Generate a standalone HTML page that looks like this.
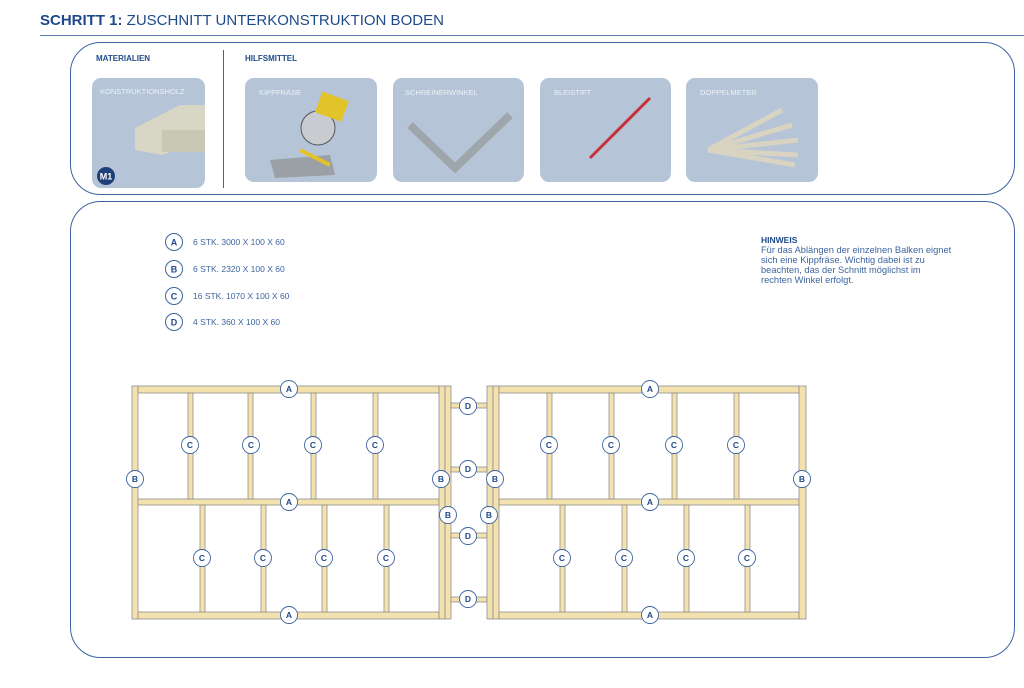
<!DOCTYPE html>
<html><head><meta charset="utf-8"><style>
body{margin:0;width:1024px;height:683px;background:#fff;overflow:hidden;font-family:"Liberation Sans",sans-serif}
</style></head><body>
<svg width="1024" height="683" viewBox="0 0 1024 683" xmlns="http://www.w3.org/2000/svg" font-family="Liberation Sans, sans-serif">
<text x="40" y="25" font-size="15" fill="#1f4a8a"><tspan font-weight="bold">SCHRITT 1:</tspan> ZUSCHNITT UNTERKONSTRUKTION BODEN</text>
<line x1="40" y1="35.5" x2="1024" y2="35.5" stroke="#5d7fb0" stroke-width="1"/>
<rect x="70.5" y="42.5" width="944" height="152" rx="30" fill="none" stroke="#3d64a0" stroke-width="1"/>
<rect x="70.5" y="201.5" width="944" height="456" rx="30" fill="none" stroke="#3d64a0" stroke-width="1"/>
<line x1="223.5" y1="50" x2="223.5" y2="188" stroke="#3d64a0"/>
<text x="96" y="61" font-size="8" font-weight="bold" fill="#1f4a8a">MATERIALIEN</text>
<text x="245" y="61" font-size="8" font-weight="bold" fill="#1f4a8a">HILFSMITTEL</text>
<g fill="#b5c4d6">
<rect x="92" y="78" width="113" height="110" rx="9"/>
<rect x="245" y="78" width="132" height="104" rx="9"/>
<rect x="393" y="78" width="131" height="104" rx="9"/>
<rect x="540" y="78" width="131" height="104" rx="9"/>
<rect x="686" y="78" width="132" height="104" rx="9"/>
</g>
<g font-size="7.5" fill="#eef2f7">
<text x="100" y="94">KONSTRUKTIONSHOLZ</text>
<text x="259" y="95">KIPPFRÄSE</text>
<text x="405" y="95">SCHREINERWINKEL</text>
<text x="554" y="95">BLEISTIFT</text>
<text x="700" y="95">DOPPELMETER</text>
</g>
<polygon points="135,128 180,105 205,105 205,140 162,155 135,150" fill="#d8d6c4"/>
<rect x="162" y="130" width="43" height="22" fill="#c9c8b4"/>
<circle cx="106" cy="176" r="9" fill="#1f3f78"/><text x="106" y="179.5" font-size="9" font-weight="bold" fill="#fff" text-anchor="middle">M1</text>
<polygon points="270,160 330,155 335,175 275,178" fill="#9aa0a6"/>
<circle cx="318" cy="128" r="17" fill="#c8ccd0" stroke="#555"/>
<rect x="318" y="95" width="28" height="22" fill="#e2c42a" transform="rotate(20 330 106)"/>
<line x1="300" y1="150" x2="330" y2="165" stroke="#e2c42a" stroke-width="4"/>
<polyline points="410,125 455,168 510,115" fill="none" stroke="#9ea6ac" stroke-width="8"/>
<line x1="590" y1="158" x2="650" y2="98" stroke="#c7323a" stroke-width="3"/>
<g stroke="#d9d3c1" stroke-width="5"><line x1="708" y1="150" x2="782" y2="110"/><line x1="708" y1="150" x2="792" y2="125"/><line x1="708" y1="150" x2="798" y2="140"/><line x1="708" y1="150" x2="798" y2="155"/><line x1="708" y1="150" x2="795" y2="165"/></g>
<g font-size="8.5" fill="#3d64a0">
<text x="193" y="245">6 STK. 3000 X 100 X 60</text>
<text x="193" y="272">6 STK. 2320 X 100 X 60</text>
<text x="193" y="299">16 STK. 1070 X 100 X 60</text>
<text x="193" y="325">4 STK. 360 X 100 X 60</text>
</g>
<g fill="#fff" stroke="#3d64a0" stroke-width="1">
<circle cx="174" cy="242" r="8.5"/><circle cx="174" cy="269" r="8.5"/><circle cx="174" cy="296" r="8.5"/><circle cx="174" cy="322" r="8.5"/>
</g>
<g font-size="9" font-weight="bold" fill="#1f4a8a" text-anchor="middle">
<text x="174" y="245.5">A</text><text x="174" y="272.5">B</text><text x="174" y="299.5">C</text><text x="174" y="325.5">D</text>
</g>
<g font-size="9.3" fill="#3d64a0">
<text x="761" y="243" font-weight="bold" fill="#1f4a8a" font-size="8.5">HINWEIS</text>
<text x="761" y="253">Für das Ablängen der einzelnen Balken eignet</text>
<text x="761" y="263">sich eine Kippfräse. Wichtig dabei ist zu</text>
<text x="761" y="273">beachten, das der Schnitt möglichst im</text>
<text x="761" y="283">rechten Winkel erfolgt.</text>
</g>
<g fill="#f3e2ad" stroke="#8f8f8f" stroke-width="0.8">
<rect x="132" y="386" width="6" height="233"/>
<rect x="138" y="386" width="301" height="7"/>
<rect x="138" y="499" width="301" height="6"/>
<rect x="138" y="612" width="301" height="7"/>
<rect x="439" y="386" width="6" height="233"/><rect x="445" y="386" width="6" height="233"/>
<rect x="188" y="393" width="5" height="106"/><rect x="248" y="393" width="5" height="106"/><rect x="311" y="393" width="5" height="106"/><rect x="373" y="393" width="5" height="106"/>
<rect x="200" y="505" width="5" height="107"/><rect x="261" y="505" width="5" height="107"/><rect x="322" y="505" width="5" height="107"/><rect x="384" y="505" width="5" height="107"/>
<rect x="451" y="403" width="36" height="5"/><rect x="451" y="467" width="36" height="5"/><rect x="451" y="533" width="36" height="5"/><rect x="451" y="597" width="36" height="5"/>
<rect x="487" y="386" width="6" height="233"/><rect x="493" y="386" width="6" height="233"/>
<rect x="499" y="386" width="300" height="7"/>
<rect x="499" y="499" width="300" height="6"/>
<rect x="499" y="612" width="300" height="7"/>
<rect x="799" y="386" width="7" height="233"/>
<rect x="547" y="393" width="5" height="106"/><rect x="609" y="393" width="5" height="106"/><rect x="672" y="393" width="5" height="106"/><rect x="734" y="393" width="5" height="106"/>
<rect x="560" y="505" width="5" height="107"/><rect x="622" y="505" width="5" height="107"/><rect x="684" y="505" width="5" height="107"/><rect x="745" y="505" width="5" height="107"/>
</g>
<g fill="#fff" stroke="#3d64a0" stroke-width="0.9">
<circle cx="289" cy="389" r="8.5"/><circle cx="289" cy="502" r="8.5"/><circle cx="289" cy="615" r="8.5"/>
<circle cx="650" cy="389" r="8.5"/><circle cx="650" cy="502" r="8.5"/><circle cx="650" cy="615" r="8.5"/>
<circle cx="135" cy="479" r="8.5"/><circle cx="441" cy="479" r="8.5"/><circle cx="448" cy="515" r="8.5"/><circle cx="495" cy="479" r="8.5"/><circle cx="489" cy="515" r="8.5"/><circle cx="802" cy="479" r="8.5"/>
<circle cx="468" cy="406" r="8.5"/><circle cx="468" cy="469" r="8.5"/><circle cx="468" cy="536" r="8.5"/><circle cx="468" cy="599" r="8.5"/>
<circle cx="190" cy="445" r="8.5"/><circle cx="251" cy="445" r="8.5"/><circle cx="313" cy="445" r="8.5"/><circle cx="375" cy="445" r="8.5"/>
<circle cx="202" cy="558" r="8.5"/><circle cx="263" cy="558" r="8.5"/><circle cx="324" cy="558" r="8.5"/><circle cx="386" cy="558" r="8.5"/>
<circle cx="549" cy="445" r="8.5"/><circle cx="611" cy="445" r="8.5"/><circle cx="674" cy="445" r="8.5"/><circle cx="736" cy="445" r="8.5"/>
<circle cx="562" cy="558" r="8.5"/><circle cx="624" cy="558" r="8.5"/><circle cx="686" cy="558" r="8.5"/><circle cx="747" cy="558" r="8.5"/>
</g>
<g font-size="8.5" font-weight="bold" fill="#1f4a8a" text-anchor="middle">
<text x="289" y="392">A</text><text x="289" y="505">A</text><text x="289" y="618">A</text>
<text x="650" y="392">A</text><text x="650" y="505">A</text><text x="650" y="618">A</text>
<text x="135" y="482">B</text><text x="441" y="482">B</text><text x="448" y="518">B</text><text x="495" y="482">B</text><text x="489" y="518">B</text><text x="802" y="482">B</text>
<text x="468" y="409">D</text><text x="468" y="472">D</text><text x="468" y="539">D</text><text x="468" y="602">D</text>
<text x="190" y="448">C</text><text x="251" y="448">C</text><text x="313" y="448">C</text><text x="375" y="448">C</text>
<text x="202" y="561">C</text><text x="263" y="561">C</text><text x="324" y="561">C</text><text x="386" y="561">C</text>
<text x="549" y="448">C</text><text x="611" y="448">C</text><text x="674" y="448">C</text><text x="736" y="448">C</text>
<text x="562" y="561">C</text><text x="624" y="561">C</text><text x="686" y="561">C</text><text x="747" y="561">C</text>
</g>
</svg>
</body></html>
